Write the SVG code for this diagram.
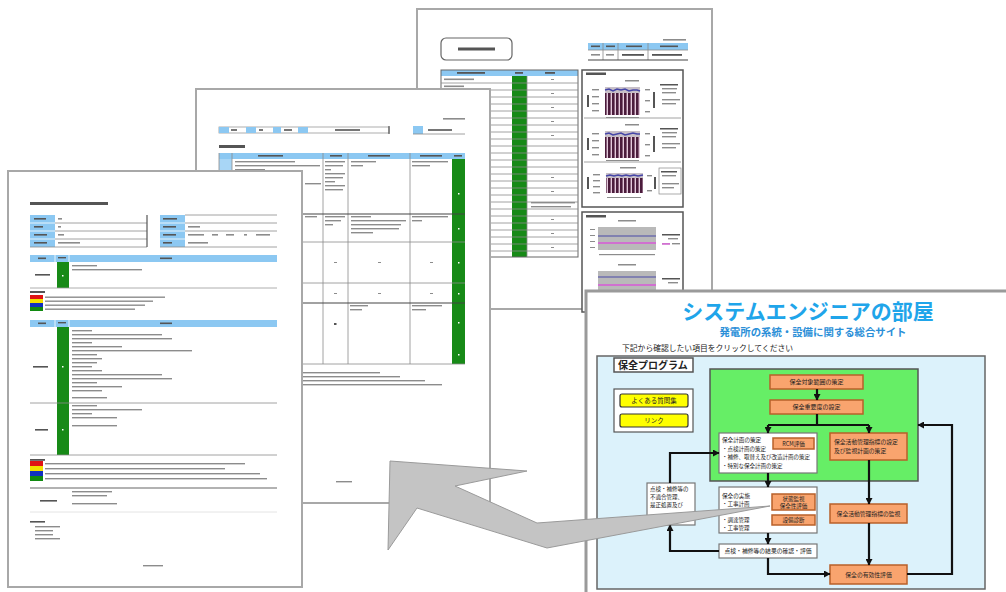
<svg xmlns="http://www.w3.org/2000/svg" width="1006" height="592" viewBox="0 0 1006 592">
<style>
.page{fill:#fff;stroke:#a8a8a8;stroke-width:2}
.t{fill:#8c8c8c}
.td{fill:#555}
.hd{fill:#8cc8f2}
.gr{fill:#178a17}
.ln{stroke:#8a8a8a;stroke-width:0.8;fill:none}
.lk{stroke:#444;stroke-width:1.2;fill:none}
.wd{fill:#fff}
.jp{font-family:"Noto Sans CJK JP","Noto Sans",sans-serif;fill:#222}
.or{fill:#f9a46e;stroke:#b8602a;stroke-width:1.5}
.wb{fill:#fff;stroke:#777;stroke-width:1.2}
.c{stroke:#111;stroke-width:2.2;fill:none}
</style>
<defs>
<marker id="ah" markerUnits="userSpaceOnUse" markerWidth="7" markerHeight="7" refX="6" refY="3.5" orient="auto">
<path d="M0,0 L6.5,3.5 L0,7 z" fill="#111"/>
</marker>
<pattern id="bars" patternUnits="userSpaceOnUse" width="4" height="10">
<rect width="4" height="10" fill="#e4cadc"/>
<rect width="2.6" height="10" fill="#4b1c3c"/>
</pattern>
</defs>
<rect width="1006" height="592" fill="#fff"/>

<!-- Document 3 (back) -->
<g id="doc3">
<rect class="page" x="417" y="9" width="295" height="300"/>
<rect x="441" y="38" width="71" height="22" rx="5" fill="#fff" stroke="#666" stroke-width="1.2"/>
<rect class="td" x="458" y="47.5" width="37" height="3"/>
<rect class="t" x="663" y="39" width="23" height="1.6"/>
<rect class="hd" x="588" y="43" width="100" height="7"/>
<path class="ln" d="M603 43V60M618 43V60M648 43V60M588 50H688"/>
<path class="lk" d="M588 60H688"/>
<rect class="td" x="591" y="45.5" width="9" height="1.6"/><rect class="td" x="606" y="45.5" width="9" height="1.6"/><rect class="td" x="626" y="45.5" width="16" height="1.6"/><rect class="td" x="660" y="45.5" width="18" height="1.6"/>
<rect class="t" x="591" y="54" width="9" height="1.6"/><rect class="t" x="606" y="54" width="8" height="1.6"/><rect class="td" x="622" y="54" width="22" height="1.8"/><rect class="td" x="652" y="54" width="30" height="1.8"/>
<rect class="hd" x="441" y="70" width="137" height="6"/>
<rect class="td" x="457" y="72" width="28" height="1.8"/><rect class="td" x="515" y="72" width="8" height="1.8"/><rect class="td" x="545" y="72" width="10" height="1.8"/>
<rect class="gr" x="512" y="76" width="15" height="181"/>
<rect x="441" y="70" width="137" height="187" fill="none" stroke="#666" stroke-width="1"/>
<path class="ln" d="M527 76V257M441 83H578M441 90H578M441 97H578M441 104H578M441 111H578M441 118H578M441 125H578M441 132H578M441 139H578M441 146H578M441 153H578M441 160H578M441 167H578M441 174H578M441 181H578M441 188H578M441 195H578M441 202H578M441 209H578M441 216H578M441 223H578M441 230H578M441 237H578M441 244H578M441 251H578"/>
<rect class="t" x="444" y="78.5" width="30" height="1.6"/><rect class="t" x="444" y="85.5" width="20" height="1.6"/><rect class="t" x="444" y="143" width="12" height="1.6"/><rect class="t" x="444" y="177" width="8" height="1.6"/><rect class="t" x="444" y="184" width="22" height="1.6"/><rect class="t" x="444" y="198" width="4" height="1.6"/><rect class="t" x="444" y="233" width="18" height="1.6"/><rect class="t" x="444" y="240" width="16" height="1.6"/><rect class="t" x="444" y="247" width="18" height="1.6"/>
<rect class="t" x="551" y="79" width="3" height="1"/><rect class="t" x="551" y="93" width="3" height="1"/><rect class="t" x="551" y="107" width="3" height="1"/><rect class="t" x="551" y="121" width="3" height="1"/><rect class="t" x="551" y="135" width="3" height="1"/><rect class="t" x="551" y="177" width="3" height="1"/><rect class="t" x="551" y="191" width="3" height="1"/><rect class="t" x="531" y="202" width="44" height="1.4"/><rect class="t" x="531" y="206" width="40" height="1.4"/><rect class="t" x="551" y="219" width="3" height="1"/><rect class="t" x="551" y="233" width="3" height="1"/><rect class="t" x="551" y="247" width="3" height="1"/>
<rect class="t" x="441" y="266" width="12" height="1.6"/><rect class="t" x="441" y="271" width="45" height="1.6"/><rect class="t" x="441" y="276" width="5" height="1.6"/><rect class="t" x="441" y="281" width="8" height="1.6"/>
<rect x="582" y="70" width="101" height="137" fill="#fff" stroke="#555" stroke-width="1.5"/>
<path class="ln" d="M584 118H681M584 162H681"/>
<rect class="td" x="586" y="72.5" width="20" height="2.5"/>
<rect class="t" x="625" y="80" width="14" height="1.5"/>
<rect x="605" y="87" width="35" height="28" fill="#c8c0c8"/><rect x="605" y="93" width="35" height="22" fill="url(#bars)"/>
<polyline points="605,90 609,89 613,91 617,89 621,90 625,89 629,91 633,90 637,90 640,91" fill="none" stroke="#4646a8" stroke-width="1.5"/>
<rect class="t" x="592" y="89" width="7" height="1.4"/><rect class="t" x="592" y="96" width="7" height="1.4"/><rect class="t" x="592" y="103" width="7" height="1.4"/><rect class="t" x="592" y="110" width="7" height="1.4"/><rect class="td" x="587" y="95" width="2" height="12"/>
<rect class="t" x="645" y="89" width="5" height="1.4"/><rect class="t" x="645" y="100" width="5" height="1.4"/><rect class="t" x="645" y="111" width="5" height="1.4"/><rect class="td" x="653" y="92" width="2" height="16"/>
<rect class="td" x="660" y="84" width="18" height="1.5"/><rect class="t" x="662" y="88" width="15" height="1.4"/><rect class="t" x="662" y="92" width="14" height="1.4"/><rect class="t" x="662" y="99" width="18" height="1.4"/><rect class="t" x="662" y="103" width="14" height="1.4"/>
<rect class="t" x="606" y="117" width="33" height="1"/>
<rect class="t" x="625" y="124" width="14" height="1.5"/>
<rect x="605" y="131" width="35" height="27" fill="#c8c0c8"/><rect x="605" y="137" width="35" height="21" fill="url(#bars)"/>
<polyline points="605,134 609,133 613,135 617,134 621,133 625,135 629,134 633,133 637,134 640,134" fill="none" stroke="#4646a8" stroke-width="1.5"/>
<rect class="t" x="592" y="133" width="7" height="1.4"/><rect class="t" x="592" y="140" width="7" height="1.4"/><rect class="t" x="592" y="147" width="7" height="1.4"/><rect class="t" x="592" y="154" width="7" height="1.4"/><rect class="td" x="587" y="138" width="2" height="12"/>
<rect class="t" x="645" y="133" width="5" height="1.4"/><rect class="t" x="645" y="144" width="5" height="1.4"/><rect class="t" x="645" y="155" width="5" height="1.4"/><rect class="td" x="653" y="136" width="2" height="16"/>
<rect class="td" x="660" y="128" width="18" height="1.5"/><rect class="t" x="662" y="132" width="15" height="1.4"/><rect class="t" x="662" y="136" width="14" height="1.4"/><rect class="t" x="662" y="143" width="18" height="1.4"/><rect class="t" x="662" y="147" width="14" height="1.4"/>
<rect class="t" x="606" y="160" width="33" height="1"/>
<rect class="t" x="620" y="167" width="16" height="1.5"/>
<rect x="606" y="173" width="37" height="20" fill="#c8c0c8"/><rect x="606" y="178" width="37" height="15" fill="url(#bars)"/>
<polyline points="606,176 610,175 614,176 618,175 622,176 626,175 630,176 634,175 638,176 643,175" fill="none" stroke="#4646a8" stroke-width="1.5"/>
<rect class="t" x="593" y="174" width="7" height="1.4"/><rect class="t" x="593" y="180" width="7" height="1.4"/><rect class="t" x="593" y="186" width="7" height="1.4"/><rect class="t" x="593" y="192" width="7" height="1.4"/><rect class="td" x="587" y="177" width="2" height="12"/>
<rect class="t" x="647" y="175" width="5" height="1.4"/><rect class="t" x="647" y="190" width="5" height="1.4"/><rect class="td" x="654" y="177" width="2" height="12"/>
<rect x="659" y="168" width="22" height="26" fill="none" stroke="#888" stroke-width="0.7"/><rect class="td" x="661" y="171" width="16" height="1.5"/><rect class="t" x="662" y="175" width="14" height="1.4"/><rect class="t" x="662" y="183" width="17" height="1.4"/><rect class="t" x="662" y="187" width="12" height="1.4"/>
<rect class="t" x="607" y="197" width="34" height="1"/>
<rect x="582" y="212" width="101" height="100" fill="#fff" stroke="#555" stroke-width="1.5"/>
<rect class="td" x="586" y="215" width="20" height="2.5"/>
<rect class="t" x="618" y="220" width="18" height="1.5"/>
<rect x="598" y="227" width="58" height="23" fill="#b9b9b9"/>
<line x1="598" y1="236" x2="656" y2="236" stroke="#4a4aa8" stroke-width="1.2"/><line x1="598" y1="243" x2="656" y2="243" stroke="#d070d0" stroke-width="2"/>
<rect class="t" x="590" y="229" width="5" height="1"/><rect class="t" x="590" y="235" width="5" height="1"/><rect class="t" x="590" y="241" width="5" height="1"/><rect class="t" x="590" y="247" width="5" height="1"/>
<rect class="t" x="599" y="254" width="56" height="1.2"/>
<rect class="td" x="662" y="234" width="18" height="1.5"/><rect class="t" x="668" y="238" width="10" height="1.4"/><rect x="662" y="243" width="8" height="1.8" fill="#d070d0"/><rect class="t" x="672" y="243" width="8" height="1.4"/>
<rect class="t" x="618" y="264" width="18" height="1.5"/>
<rect x="598" y="271" width="58" height="23" fill="#b9b9b9"/>
<line x1="598" y1="277" x2="656" y2="277" stroke="#4a4aa8" stroke-width="1.2"/><line x1="598" y1="285" x2="656" y2="285" stroke="#d070d0" stroke-width="2"/>
<rect class="td" x="662" y="278" width="18" height="1.5"/><rect class="t" x="668" y="282" width="10" height="1.4"/>
</g>

<!-- Document 2 (middle) -->
<g id="doc2">
<rect class="page" x="196" y="89" width="294" height="414"/>
<rect class="t" x="443" y="118" width="22" height="1.6"/>
<rect x="219" y="127" width="170" height="6" fill="none" stroke="#999" stroke-width="0.8"/>
<rect class="hd" x="219" y="127" width="10" height="6"/><rect class="hd" x="246" y="127" width="10" height="6"/><rect class="hd" x="273" y="127" width="8" height="6"/><rect class="hd" x="298" y="127" width="10" height="6"/>
<line x1="389" y1="126" x2="389" y2="134" stroke="#555" stroke-width="1.2"/>
<rect class="td" x="231" y="129.2" width="6" height="1.6"/><rect class="td" x="259" y="129.2" width="4" height="1.6"/><rect class="td" x="284" y="129.2" width="8" height="1.6"/><rect class="td" x="335" y="129.2" width="25" height="1.6"/>
<rect class="hd" x="413" y="126" width="10" height="8"/><rect class="td" x="428" y="129.2" width="24" height="1.6"/>
<line x1="413" y1="134" x2="465" y2="134" stroke="#888" stroke-width="0.8"/>
<rect class="td" x="219" y="145" width="26" height="3"/>
<rect class="hd" x="219" y="153" width="246" height="6"/>
<rect x="219" y="159" width="13" height="55" fill="#a8d6f6"/>
<rect class="td" x="258" y="155" width="25" height="1.6"/><rect class="td" x="330" y="155" width="12" height="1.6"/><rect class="td" x="368" y="155" width="22" height="1.6"/><rect class="td" x="420" y="155" width="22" height="1.6"/><rect class="td" x="454" y="155" width="8" height="1.6"/>
<rect class="gr" x="452" y="159" width="13" height="205"/>
<path class="ln" d="M219 153V364M232 153V364M323 153V364M348 153V364M410 153V364M219 242H465M219 283H465M219 364H465"/>
<path class="lk" d="M219 214H465M219 303H465"/>
<rect class="t" x="235" y="161" width="60" height="1.4"/><rect class="t" x="235" y="165" width="85" height="1.4"/><rect class="t" x="235" y="169" width="30" height="1.4"/><rect class="t" x="305" y="183" width="16" height="1.4"/>
<rect class="t" x="325" y="161" width="20" height="1.4"/><rect class="t" x="325" y="165" width="18" height="1.4"/><rect class="t" x="325" y="169" width="6" height="1.4"/><rect class="t" x="325" y="173" width="20" height="1.4"/><rect class="t" x="325" y="177" width="18" height="1.4"/><rect class="t" x="325" y="181" width="10" height="1.4"/><rect class="t" x="325" y="185" width="20" height="1.4"/><rect class="t" x="325" y="189" width="18" height="1.4"/>
<rect class="t" x="351" y="161" width="25" height="1.4"/><rect class="t" x="351" y="165" width="12" height="1.4"/>
<rect class="t" x="412" y="161" width="36" height="1.4"/><rect class="t" x="412" y="165" width="18" height="1.4"/>
<rect class="t" x="305" y="216" width="12" height="1.4"/>
<rect class="t" x="325" y="216" width="20" height="1.4"/><rect class="t" x="325" y="220" width="16" height="1.4"/><rect class="t" x="325" y="224" width="8" height="1.4"/>
<rect class="t" x="351" y="216" width="20" height="1.4"/><rect class="t" x="351" y="220" width="55" height="1.4"/><rect class="t" x="351" y="224" width="50" height="1.4"/><rect class="t" x="351" y="228" width="48" height="1.4"/><rect class="t" x="351" y="232" width="22" height="1.4"/>
<rect class="t" x="412" y="216" width="36" height="1.4"/><rect class="t" x="412" y="220" width="10" height="1.4"/>
<rect class="t" x="334" y="262" width="3" height="1"/><rect class="t" x="378" y="262" width="3" height="1"/><rect class="t" x="430" y="262" width="3" height="1"/>
<rect class="t" x="334" y="293" width="3" height="1"/><rect class="t" x="378" y="293" width="3" height="1"/><rect class="t" x="430" y="293" width="3" height="1"/>
<rect class="t" x="350" y="305" width="18" height="1.4"/><rect class="t" x="350" y="309" width="12" height="1.4"/><rect class="t" x="412" y="305" width="30" height="1.4"/><rect class="t" x="412" y="309" width="14" height="1.4"/><rect class="td" x="334" y="323" width="2.5" height="2"/>
<rect class="wd" x="458" y="193" width="1.5" height="1.5"/><rect class="wd" x="458" y="228" width="1.5" height="1.5"/><rect class="wd" x="458" y="262" width="1.5" height="1.5"/><rect class="wd" x="458" y="293" width="1.5" height="1.5"/><rect class="wd" x="458" y="322" width="1.5" height="1.5"/><rect class="wd" x="458" y="354" width="1.5" height="1.5"/>
<rect class="t" x="220" y="372" width="160" height="1.4"/><rect class="t" x="220" y="376" width="180" height="1.4"/><rect class="t" x="220" y="380" width="205" height="1.4"/><rect class="t" x="220" y="384" width="222" height="1.4"/>
<rect class="t" x="336" y="481" width="16" height="1.4"/>
</g>

<!-- Document 1 (front) -->
<g id="doc1">
<rect class="page" x="8" y="171" width="294" height="416"/>
<rect class="td" x="30" y="202" width="78" height="3"/>
<rect class="hd" x="30" y="215" width="25" height="32"/>
<path d="M30 223H55M30 231H55M30 239H55" stroke="#fff" stroke-width="0.8"/>
<path class="ln" d="M55 223H147M55 231H147M55 239H147M30 247H147"/>
<line x1="147" y1="215" x2="147" y2="247" stroke="#555" stroke-width="1.2"/>
<rect class="td" x="34" y="218" width="12" height="1.6"/><rect class="td" x="34" y="226" width="9" height="1.6"/><rect class="td" x="34" y="234" width="13" height="1.6"/><rect class="td" x="34" y="242" width="13" height="1.6"/>
<rect class="t" x="58" y="218" width="4" height="1.6"/><rect class="t" x="58" y="226" width="3" height="1.6"/><rect class="t" x="58" y="234" width="6" height="1.6"/><rect class="t" x="58" y="242" width="22" height="1.6"/>
<rect class="hd" x="160" y="215" width="25" height="32"/>
<path d="M160 223H185M160 231H185M160 239H185" stroke="#fff" stroke-width="0.8"/>
<path class="ln" d="M185 215H277M185 223H277M185 231H277M160 247H277"/>
<rect class="td" x="163" y="218" width="14" height="1.6"/><rect class="td" x="163" y="226" width="13" height="1.6"/><rect class="td" x="163" y="234" width="13" height="1.6"/><rect class="td" x="163" y="242" width="9" height="1.6"/>
<rect class="t" x="188" y="226" width="12" height="1.6"/><rect class="t" x="188" y="234" width="16" height="1.6"/><rect class="t" x="212" y="234" width="6" height="1.6"/><rect class="t" x="226" y="234" width="8" height="1.6"/><rect class="t" x="244" y="234" width="3" height="1.6"/><rect class="t" x="256" y="234" width="14" height="1.6"/><rect class="t" x="188" y="242" width="20" height="1.6"/>
<rect class="hd" x="30" y="255" width="247" height="7"/>
<path d="M55 255V262M69 255V262" stroke="#fff" stroke-width="0.8"/>
<rect class="td" x="38" y="257.5" width="8" height="1.6"/><rect class="td" x="58" y="257" width="8" height="1.4"/><rect class="td" x="160" y="257.5" width="12" height="1.6"/>
<rect class="gr" x="57" y="262" width="12" height="26"/>
<line x1="30" y1="288" x2="277" y2="288" stroke="#999" stroke-width="0.8"/>
<rect class="td" x="35" y="274" width="15" height="1.6"/>
<rect class="t" x="72" y="265" width="25" height="1.4"/><rect class="t" x="72" y="269" width="70" height="1.4"/>
<rect class="td" x="30" y="291" width="15" height="2"/>
<rect x="30" y="295" width="13" height="4" fill="#e01414"/><rect x="30" y="299" width="13" height="4" fill="#f2e200"/><rect x="30" y="303" width="13" height="4" fill="#1030c0"/><rect x="30" y="307" width="13" height="4" fill="#108a10"/>
<rect class="t" x="45" y="296.5" width="120" height="1.4"/><rect class="t" x="45" y="300.5" width="108" height="1.4"/><rect class="t" x="45" y="304.5" width="100" height="1.4"/><rect class="t" x="45" y="308.5" width="90" height="1.4"/>
<rect class="hd" x="30" y="320" width="247" height="7"/>
<path d="M55 320V327M69 320V327" stroke="#fff" stroke-width="0.8"/>
<rect class="td" x="38" y="322.5" width="8" height="1.6"/><rect class="td" x="58" y="322" width="8" height="1.4"/><rect class="td" x="160" y="322.5" width="12" height="1.6"/>
<rect class="gr" x="57" y="327" width="12" height="128"/>
<path class="ln" d="M30 403H277M30 455H277"/>
<rect class="td" x="33" y="366" width="15" height="1.6"/><rect class="td" x="35" y="429" width="13" height="1.6"/>
<rect class="wd" x="62" y="366" width="1.5" height="1.5"/><rect class="wd" x="62" y="429" width="1.5" height="1.5"/><rect class="wd" x="62" y="275" width="1.5" height="1.5"/>
<rect class="t" x="72" y="330" width="20" height="1.4"/><rect class="t" x="72" y="334" width="90" height="1.4"/><rect class="t" x="72" y="338" width="100" height="1.4"/><rect class="t" x="72" y="342" width="20" height="1.4"/><rect class="t" x="72" y="346" width="50" height="1.4"/><rect class="t" x="72" y="350" width="120" height="1.4"/><rect class="t" x="72" y="354" width="25" height="1.4"/><rect class="t" x="72" y="358" width="30" height="1.4"/><rect class="t" x="72" y="362" width="25" height="1.4"/><rect class="t" x="72" y="366" width="20" height="1.4"/><rect class="t" x="72" y="370" width="30" height="1.4"/><rect class="t" x="72" y="374" width="90" height="1.4"/><rect class="t" x="72" y="378" width="100" height="1.4"/><rect class="t" x="72" y="382" width="25" height="1.4"/><rect class="t" x="72" y="386" width="50" height="1.4"/><rect class="t" x="72" y="390" width="30" height="1.4"/><rect class="t" x="72" y="397" width="35" height="1.4"/>
<rect class="t" x="72" y="405" width="25" height="1.4"/><rect class="t" x="72" y="409" width="70" height="1.4"/><rect class="t" x="72" y="413" width="20" height="1.4"/><rect class="t" x="72" y="417" width="45" height="1.4"/><rect class="t" x="72" y="425" width="45" height="1.4"/>
<rect class="td" x="30" y="459" width="15" height="1.8"/>
<rect x="30" y="461" width="13" height="5" fill="#e01414"/><rect x="30" y="466" width="13" height="5" fill="#f2e200"/><rect x="30" y="471" width="13" height="5" fill="#1030c0"/><rect x="30" y="476" width="13" height="5" fill="#108a10"/>
<rect class="t" x="45" y="463" width="200" height="1.4"/><rect class="t" x="45" y="468" width="180" height="1.4"/><rect class="t" x="45" y="473" width="215" height="1.4"/><rect class="t" x="45" y="478" width="222" height="1.4"/>
<line x1="30" y1="488" x2="277" y2="488" stroke="#999" stroke-width="1.5"/>
<line x1="30" y1="512" x2="277" y2="512" stroke="#ddd" stroke-width="0.8"/>
<rect class="td" x="40" y="500" width="17" height="1.6"/>
<rect class="t" x="72" y="491" width="40" height="1.4"/><rect class="t" x="72" y="495" width="35" height="1.4"/><rect class="t" x="72" y="503" width="45" height="1.4"/>
<rect class="td" x="30" y="521" width="15" height="1.6"/><rect class="t" x="35" y="526" width="25" height="1.4"/><rect class="t" x="35" y="530" width="18" height="1.4"/><rect class="t" x="35" y="534" width="18" height="1.4"/><rect class="t" x="35" y="538" width="25" height="1.4"/>
<rect class="t" x="143" y="565" width="20" height="1.4"/>
</g>

<!-- Website screenshot -->
<g id="site">
<rect x="586" y="291" width="422" height="303" fill="#fff" stroke="#9a9a9a" stroke-width="3"/>
<text class="jp" x="808" y="319" font-size="21" font-weight="bold" text-anchor="middle" style="fill:#1fa5ea">システムエンジニアの部屋</text>
<text class="jp" x="813" y="336" font-size="10.4" font-weight="bold" text-anchor="middle" style="fill:#2b8fd8">発電所の系統・設備に関する総合サイト</text>
<text class="jp" x="622" y="351" font-size="7.8">下記から確認したい項目をクリックしてください</text>
<rect x="597" y="356" width="388" height="233" fill="#dcf2fb" stroke="#666" stroke-width="1.5"/>
</g>
<g id="tab">
<rect x="614" y="358" width="79" height="14" fill="#fff" stroke="#555" stroke-width="1.5"/>
<text class="jp" x="618" y="369" font-size="10" font-weight="bold">保全プログラム</text>
</g>
<g id="menu">
<rect x="614" y="389" width="79" height="43" fill="#fff" stroke="#555" stroke-width="1.2"/>
<rect x="620" y="394" width="68" height="13" rx="2" fill="#ffff00" stroke="#333" stroke-width="1.2"/>
<text class="jp" x="654" y="403" font-size="6.5" text-anchor="middle">よくある質問集</text>
<rect x="620" y="414" width="68" height="13" rx="2" fill="#ffff00" stroke="#333" stroke-width="1.2"/>
<text class="jp" x="654" y="423" font-size="6.5" text-anchor="middle">リンク</text>
</g>
<g id="green"><rect x="710" y="369" width="208" height="112" fill="#66ee66" stroke="#555" stroke-width="1.5"/></g>
<g id="n1"><rect class="or" x="770" y="375" width="93" height="14"/><text class="jp" x="816.5" y="384.3" font-size="6" text-anchor="middle">保全対象範囲の策定</text></g>
<g id="n2"><rect class="or" x="770" y="400" width="93" height="14"/><text class="jp" x="816.5" y="409.3" font-size="6" text-anchor="middle">保全重要度の設定</text></g>
<g id="n3"><rect class="wb" x="719" y="433" width="98" height="40"/>
<text class="jp" x="722" y="442" font-size="5.6">保全計画の策定</text>
<text class="jp" x="722" y="450.5" font-size="5.5">・点検計画の策定</text>
<text class="jp" x="722" y="459" font-size="5.5">・補修、取替え及び改造計画の策定</text>
<text class="jp" x="722" y="467.5" font-size="5.5">・特別な保全計画の策定</text></g>
<g id="n4"><rect class="or" x="773" y="438" width="41" height="11"/><text class="jp" x="793.5" y="445.8" font-size="5.5" text-anchor="middle">RCM評価</text></g>
<g id="n5"><rect class="or" x="830" y="433" width="77" height="27"/>
<text class="jp" x="834" y="444" font-size="5.8">保全活動管理指標の設定</text>
<text class="jp" x="834" y="453" font-size="5.8">及び監視計画の策定</text></g>
<g id="n6"><rect class="wb" x="719" y="487" width="98" height="46"/>
<text class="jp" x="722" y="498" font-size="5.6">保全の実施</text>
<text class="jp" x="722" y="506" font-size="5.5">・工事計画</text>
<text class="jp" x="722" y="522" font-size="5.5">・調達管理</text>
<text class="jp" x="722" y="530" font-size="5.5">・工事管理</text></g>
<g id="n7"><rect class="or" x="772" y="494" width="43" height="16"/>
<text class="jp" x="793.5" y="501" font-size="5.5" text-anchor="middle">状態監視</text>
<text class="jp" x="793.5" y="508" font-size="5.5" text-anchor="middle">保全性評価</text></g>
<g id="n8"><rect class="or" x="772" y="515" width="43" height="10"/><text class="jp" x="793.5" y="522.2" font-size="5.5" text-anchor="middle">設備診断</text></g>
<g id="n9"><rect class="wb" x="719" y="544" width="98" height="14"/><text class="jp" x="768" y="553.3" font-size="5.8" text-anchor="middle">点検・補修等の結果の確認・評価</text></g>
<g id="n10"><rect class="wb" x="647" y="483" width="48" height="42"/>
<text class="jp" x="650" y="491" font-size="5.5">点検・補修等の</text>
<text class="jp" x="650" y="499" font-size="5.5">不適合管理、</text>
<text class="jp" x="650" y="507" font-size="5.5">是正処置及び</text></g>
<g id="n11"><rect class="or" x="830" y="504" width="77" height="19"/><text class="jp" x="868.5" y="515.5" font-size="5.8" text-anchor="middle">保全活動管理指標の監視</text></g>
<g id="n12"><rect class="or" x="830" y="565" width="77" height="19"/><text class="jp" x="868.5" y="576.5" font-size="5.8" text-anchor="middle">保全の有効性評価</text></g>

<g id="connectors">
<path class="c" d="M817 389V400" marker-end="url(#ah)"/>
<path class="c" d="M817 414V425M768 425H869"/>
<path class="c" d="M768 425V433" marker-end="url(#ah)"/>
<path class="c" d="M869 425V433" marker-end="url(#ah)"/>
<path class="c" d="M768 473V487" marker-end="url(#ah)"/>
<path class="c" d="M869 460V504" marker-end="url(#ah)"/>
<path class="c" d="M869 523V565" marker-end="url(#ah)"/>
<path class="c" d="M768 533V544" marker-end="url(#ah)"/>
<path class="c" d="M719 551H670V525" marker-end="url(#ah)"/>
<path class="c" d="M670 483V453H719" marker-end="url(#ah)"/>
<path class="c" d="M768 558V574H830" marker-end="url(#ah)"/>
<path class="c" d="M907 574H952V425H918" marker-end="url(#ah)"/>
</g>

<g id="pointer">
<polygon points="390,461 527,471 455,486 537,523 770,506 547,548 417,508 388,550" fill="#c4c4c4" stroke="#9a9a9a" stroke-width="1"/>
</g>
</svg>
